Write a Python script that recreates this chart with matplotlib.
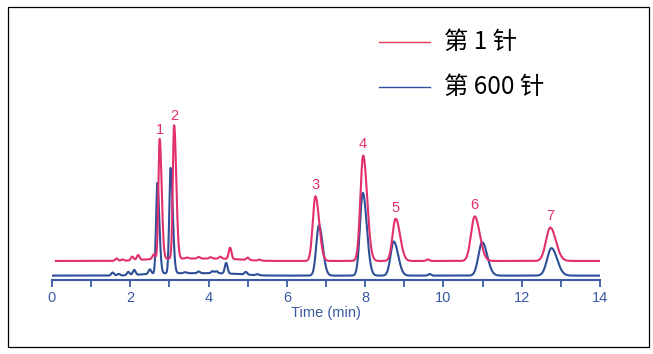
import numpy as np
import matplotlib.pyplot as plt
from matplotlib.patches import Rectangle

plt.rcParams['font.family'] = ['Liberation Sans', 'DejaVu Sans']

# peak data (time in min, height in arbitrary units, sigma in min)
peak_labels = ['1', '2', '3', '4', '5', '6', '7']
pink_times = [2.75, 3.12, 6.73, 7.95, 8.78, 10.80, 12.73]
pink_heights = [90, 100, 48.5, 79, 31.7, 33.4, 25]
blue_times = [2.69, 3.03, 6.82, 7.94, 8.73, 10.99, 12.76]
blue_heights = [68, 79, 37.7, 62, 25.6, 25, 20.6]
peak_sigmas = [0.032, 0.034, 0.068, 0.072, 0.08, 0.095, 0.11]
peak_tails = [1.6, 1.6, 1.4, 1.4, 1.4, 1.35, 1.3]

# small impurity bumps
pink_minor_times = [1.65, 1.80, 2.05, 2.20, 2.60, 3.45, 3.75, 4.05, 4.30, 4.55, 5.00, 5.30, 9.60]
pink_minor_heights = [1.8, 1.0, 2.8, 3.8, 3.5, 0.8, 1.2, 1.0, 1.5, 8.5, 1.8, 0.8, 1.2]
blue_minor_times = [1.55, 1.70, 1.95, 2.10, 2.50, 3.40, 3.75, 4.10, 4.20, 4.45, 4.95, 5.25, 9.65]
blue_minor_heights = [2.3, 1.2, 2.5, 3.8, 3.4, 0.8, 1.3, 1.5, 1.6, 8.0, 2.0, 0.8, 1.2]
minor_sigma = 0.035

pink_offset = 14.3
blue_offset = 3.3
pink_start, pink_end = 0.1, 14.05
blue_start, blue_end = 0.0, 14.0


def trace(t, times, heights, sigmas, tails, mtimes, mheights, offset):
    y = np.full_like(t, offset)
    for tc, h, s, k in zip(times, heights, sigmas, tails):
        sig = np.where(t < tc, s, s * k)
        y += h * np.exp(-0.5 * ((t - tc) / sig) ** 2)
    for tc, h in zip(mtimes, mheights):
        y += h * np.exp(-0.5 * ((t - tc) / minor_sigma) ** 2)
    # slightly raised baseline in the early region
    y += 1.8 * np.exp(-0.5 * ((t - 3.6) / 1.2) ** 4)
    return y


tp = np.linspace(pink_start, pink_end, 3000)
tb = np.linspace(blue_start, blue_end, 3000)
yp = trace(tp, pink_times, pink_heights, peak_sigmas, peak_tails,
           pink_minor_times, pink_minor_heights, pink_offset)
yb = trace(tb, blue_times, blue_heights, peak_sigmas, peak_tails,
           blue_minor_times, blue_minor_heights, blue_offset)

pink = '#e2306c'
blue = '#2d4f98'
axis_blue = '#3b5aa3'

fig = plt.figure(figsize=(6.53, 3.54), dpi=100)
ax = fig.add_axes([52 / 653, 1 - 280 / 354, 548 / 653, 260 / 354])

ax.plot(tb, yb, color=blue, lw=1.5)
ax.plot(tp, yp, color=pink, lw=1.5)

for lab, tc, h in zip(peak_labels, pink_times, pink_heights):
    ax.annotate(lab, (tc, h + pink_offset), xytext=(0, 3), textcoords='offset points',
                ha='center', va='bottom', color=pink, fontsize=10.5)

ax.set_xlim(0, 14)
ax.set_ylim(0, 195)
for s in ['top', 'right', 'left']:
    ax.spines[s].set_visible(False)
ax.spines['bottom'].set_color(axis_blue)
ax.spines['bottom'].set_linewidth(1.5)
ax.set_yticks([])
ax.set_xticks(np.arange(0, 15, 2))
ax.set_xticks(np.arange(1, 15, 2), minor=True)
ax.tick_params(axis='x', which='both', direction='out', length=5, width=1.3,
               color=axis_blue, labelcolor=axis_blue, labelsize=10.5, pad=3)
ax.set_xlabel('Time (min)', color=axis_blue, fontsize=10.5, labelpad=1)

# legend drawn by hand
cjk = ['Noto Sans CJK SC', 'DejaVu Sans']
fig.add_artist(plt.Line2D([379 / 653, 430 / 653], [1 - 42 / 354] * 2, color='#e53d55', lw=1.0))
fig.add_artist(plt.Line2D([379 / 653, 430 / 653], [1 - 87 / 354] * 2, color='#2d4fa0', lw=1.0))
fig.text(444 / 653, 1 - 42 / 354, '第 1 针', family=cjk, fontsize=17.5, va='center', ha='left')
fig.text(444 / 653, 1 - 87 / 354, '第 600 针', family=cjk, fontsize=17.5, va='center', ha='left')

fig.add_artist(Rectangle((8 / 653, 1 - 347 / 354), 641 / 653, 340 / 354,
                         transform=fig.transFigure, fill=False, ec='black', lw=0.9))

fig.savefig('out.png', dpi=100)
